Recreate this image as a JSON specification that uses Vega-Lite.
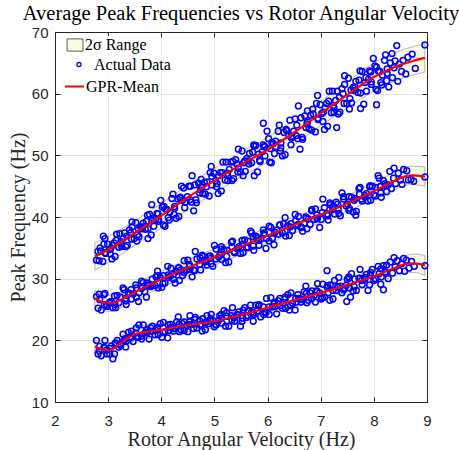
{
"$schema": "https://vega.github.io/schema/vega-lite/v6.json",
"width": 372, "height": 370,
"autosize": {"type": "none"},
"padding": {"left": 55, "top": 32, "right": 32, "bottom": 48},
"background": "white",
"title": {"text": "Average Peak Frequencies vs Rotor Angular Velocity", "font": "Liberation Serif", "fontSize": 20.5, "fontWeight": "normal", "color": "black", "offset": 1, "anchor": "middle"},
"config": {"view": {"stroke": "#262626", "strokeWidth": 1},
 "legend": {"labelFont": "Liberation Serif", "labelFontSize": 16, "labelColor": "black", "labelLimit": 300, "padding": 1, "fillColor": "white"}},
"datasets": {
"gpr": [
{"b":"A","x":2.75,"m":33.6,"lo":31.4,"hi":35.8},{"b":"A","x":3.0,"m":34.7,"lo":32.6,"hi":36.8},{"b":"A","x":3.5,"m":37.4,"lo":35.4,"hi":39.4},{"b":"A","x":4.0,"m":40.2,"lo":38.2,"hi":42.2},{"b":"A","x":4.5,"m":43.2,"lo":41.2,"hi":45.2},{"b":"A","x":5.0,"m":45.9,"lo":43.9,"hi":47.9},{"b":"A","x":5.5,"m":48.5,"lo":46.5,"hi":50.5},{"b":"A","x":6.0,"m":50.9,"lo":48.9,"hi":52.9},{"b":"A","x":6.5,"m":53.7,"lo":51.7,"hi":55.7},{"b":"A","x":7.0,"m":56.8,"lo":54.8,"hi":58.8},{"b":"A","x":7.5,"m":59.8,"lo":57.7,"hi":61.9},{"b":"A","x":8.0,"m":62.7,"lo":60.4,"hi":65.0},{"b":"A","x":8.25,"m":63.8,"lo":61.5,"hi":66.1},{"b":"A","x":8.5,"m":64.7,"lo":62.4,"hi":67.0},{"b":"A","x":8.75,"m":65.35,"lo":63.05,"hi":67.65},{"b":"A","x":8.96,"m":65.8,"lo":63.5,"hi":68.1},
{"b":"B","x":2.75,"m":26.8,"lo":25.5,"hi":28.1},{"b":"B","x":2.9,"m":26.2,"lo":24.9,"hi":27.5},{"b":"B","x":3.0,"m":26.0,"lo":24.7,"hi":27.3},{"b":"B","x":3.15,"m":26.2,"lo":24.9,"hi":27.5},{"b":"B","x":3.3,"m":26.9,"lo":25.6,"hi":28.2},{"b":"B","x":3.5,"m":27.8,"lo":26.5,"hi":29.1},{"b":"B","x":4.0,"m":29.9,"lo":28.6,"hi":31.2},{"b":"B","x":4.5,"m":31.8,"lo":30.5,"hi":33.1},{"b":"B","x":5.0,"m":33.5,"lo":32.2,"hi":34.8},{"b":"B","x":5.5,"m":35.2,"lo":33.9,"hi":36.5},{"b":"B","x":6.0,"m":37.0,"lo":35.7,"hi":38.3},{"b":"B","x":6.5,"m":38.7,"lo":37.4,"hi":40.0},{"b":"B","x":7.0,"m":40.4,"lo":39.1,"hi":41.7},{"b":"B","x":7.5,"m":42.2,"lo":40.9,"hi":43.5},{"b":"B","x":8.0,"m":44.2,"lo":42.9,"hi":45.5},{"b":"B","x":8.3,"m":45.5,"lo":44.1,"hi":46.9},{"b":"B","x":8.5,"m":46.3,"lo":44.85,"hi":47.75},{"b":"B","x":8.7,"m":46.75,"lo":45.25,"hi":48.25},{"b":"B","x":8.96,"m":46.55,"lo":45.0,"hi":48.1},
{"b":"C","x":2.75,"m":19.0,"lo":17.9,"hi":20.1},{"b":"C","x":2.85,"m":18.6,"lo":17.5,"hi":19.7},{"b":"C","x":2.95,"m":18.4,"lo":17.3,"hi":19.5},{"b":"C","x":3.05,"m":18.5,"lo":17.4,"hi":19.6},{"b":"C","x":3.2,"m":19.3,"lo":18.2,"hi":20.4},{"b":"C","x":3.35,"m":20.3,"lo":19.2,"hi":21.4},{"b":"C","x":3.5,"m":21.0,"lo":19.9,"hi":22.1},{"b":"C","x":3.75,"m":21.4,"lo":20.3,"hi":22.5},{"b":"C","x":4.0,"m":21.7,"lo":20.6,"hi":22.8},{"b":"C","x":4.5,"m":22.5,"lo":21.4,"hi":23.6},{"b":"C","x":5.0,"m":23.1,"lo":22.0,"hi":24.2},{"b":"C","x":5.5,"m":24.1,"lo":23.0,"hi":25.2},{"b":"C","x":6.0,"m":25.3,"lo":24.2,"hi":26.4},{"b":"C","x":6.5,"m":26.5,"lo":25.4,"hi":27.6},{"b":"C","x":7.0,"m":27.7,"lo":26.6,"hi":28.8},{"b":"C","x":7.5,"m":29.0,"lo":27.9,"hi":30.1},{"b":"C","x":8.0,"m":30.4,"lo":29.3,"hi":31.5},{"b":"C","x":8.3,"m":31.4,"lo":30.1,"hi":32.7},{"b":"C","x":8.6,"m":32.35,"lo":30.95,"hi":33.75},{"b":"C","x":8.75,"m":32.5,"lo":31.0,"hi":34.0},{"b":"C","x":8.96,"m":32.15,"lo":30.55,"hi":33.75}
],
"pts": [
{"x":2.81,"y":34.4},{"x":2.78,"y":33.0},{"x":2.83,"y":32.9},{"x":2.86,"y":34.5},{"x":2.92,"y":35.6},{"x":2.90,"y":32.8},{"x":2.95,"y":34.2},{"x":2.94,"y":36.5},{"x":2.99,"y":35.6},{"x":3.02,"y":34.7},{"x":3.07,"y":33.2},{"x":3.04,"y":34.0},{"x":3.08,"y":35.4},{"x":3.11,"y":35.8},{"x":3.16,"y":37.2},{"x":3.13,"y":33.6},{"x":3.20,"y":35.1},{"x":3.22,"y":37.3},{"x":3.24,"y":36.0},{"x":3.25,"y":35.6},{"x":3.31,"y":37.4},{"x":3.28,"y":36.5},{"x":3.33,"y":35.2},{"x":3.36,"y":35.4},{"x":3.42,"y":37.4},{"x":3.40,"y":37.9},{"x":3.45,"y":39.2},{"x":3.44,"y":36.4},{"x":3.49,"y":36.5},{"x":3.52,"y":39.1},{"x":3.57,"y":38.0},{"x":3.54,"y":36.1},{"x":3.58,"y":36.8},{"x":3.61,"y":38.4},{"x":3.66,"y":39.0},{"x":3.63,"y":38.1},{"x":3.70,"y":38.0},{"x":3.72,"y":39.3},{"x":3.74,"y":40.3},{"x":3.75,"y":36.5},{"x":3.81,"y":37.1},{"x":3.78,"y":40.4},{"x":3.83,"y":39.4},{"x":3.86,"y":38.5},{"x":3.92,"y":40.6},{"x":3.90,"y":39.7},{"x":3.95,"y":39.3},{"x":3.94,"y":40.5},
{"x":3.99,"y":42.7},{"x":4.02,"y":41.6},{"x":4.07,"y":38.5},{"x":4.04,"y":38.7},{"x":4.08,"y":41.3},{"x":4.11,"y":41.2},{"x":4.16,"y":40.8},{"x":4.13,"y":39.9},{"x":4.20,"y":43.0},{"x":4.22,"y":43.7},{"x":4.24,"y":40.4},{"x":4.25,"y":41.4},{"x":4.31,"y":42.9},{"x":4.28,"y":39.8},{"x":4.33,"y":40.1},{"x":4.36,"y":43.2},{"x":4.42,"y":44.7},{"x":4.40,"y":42.7},{"x":4.45,"y":42.4},{"x":4.44,"y":41.5},{"x":4.49,"y":43.3},{"x":4.52,"y":45.0},{"x":4.57,"y":42.4},{"x":4.54,"y":42.8},{"x":4.58,"y":46.7},{"x":4.61,"y":41.0},{"x":4.66,"y":42.3},{"x":4.63,"y":45.2},{"x":4.70,"y":45.5},{"x":4.72,"y":43.9},{"x":4.74,"y":44.4},{"x":4.75,"y":46.1},{"x":4.81,"y":45.6},{"x":4.78,"y":43.8},{"x":4.83,"y":43.7},{"x":4.86,"y":45.7},{"x":4.92,"y":47.2},{"x":4.90,"y":43.4},{"x":4.95,"y":45.2},{"x":4.94,"y":48.2},{"x":4.99,"y":47.1},{"x":5.02,"y":45.9},{"x":5.07,"y":43.8},{"x":5.04,"y":44.9},{"x":5.08,"y":46.7},{"x":5.11,"y":47.2},{"x":5.16,"y":48.9},{"x":5.13,"y":44.2},{"x":5.20,"y":46.0},{"x":5.22,"y":48.9},{"x":5.24,"y":47.1},{"x":5.25,"y":46.7},{"x":5.31,"y":48.9},{"x":5.28,"y":47.7},{"x":5.33,"y":45.9},{"x":5.36,"y":46.2},{"x":5.42,"y":48.6},{"x":5.40,"y":49.3},{"x":5.45,"y":51.0},{"x":5.44,"y":47.3},{"x":5.49,"y":47.3},{"x":5.52,"y":50.7},{"x":5.57,"y":49.1},{"x":5.54,"y":46.7},{"x":5.58,"y":47.4},{"x":5.61,"y":49.5},{"x":5.66,"y":50.3},{"x":5.63,"y":49.1},{"x":5.70,"y":48.8},{"x":5.72,"y":50.5},{"x":5.74,"y":51.7},{"x":5.75,"y":46.7},{"x":5.81,"y":47.3},{"x":5.78,"y":51.6},{"x":5.83,"y":50.2},{"x":5.86,"y":49.0},{"x":5.92,"y":51.7},{"x":5.90,"y":50.6},{"x":5.95,"y":49.9},{"x":5.94,"y":51.4},
{"x":5.99,"y":53.9},{"x":6.02,"y":52.7},{"x":6.07,"y":48.8},{"x":6.04,"y":48.9},{"x":6.08,"y":52.1},{"x":6.11,"y":51.9},{"x":6.16,"y":51.4},{"x":6.13,"y":50.3},{"x":6.20,"y":53.9},{"x":6.22,"y":54.9},{"x":6.24,"y":50.7},{"x":6.25,"y":52.0},{"x":6.31,"y":53.7},{"x":6.28,"y":49.9},{"x":6.33,"y":50.1},{"x":6.36,"y":54.0},{"x":6.42,"y":55.7},{"x":6.40,"y":53.3},{"x":6.45,"y":52.8},{"x":6.44,"y":51.7},{"x":6.49,"y":53.9},{"x":6.52,"y":55.9},{"x":6.57,"y":52.7},{"x":6.54,"y":53.2},{"x":6.58,"y":58.0},{"x":6.61,"y":51.0},{"x":6.66,"y":52.6},{"x":6.63,"y":56.1},{"x":6.70,"y":56.4},{"x":6.72,"y":54.5},{"x":6.74,"y":55.1},{"x":6.75,"y":57.2},{"x":6.81,"y":56.5},{"x":6.78,"y":54.3},{"x":6.83,"y":54.1},{"x":6.86,"y":56.7},{"x":6.92,"y":58.4},{"x":6.90,"y":53.8},{"x":6.95,"y":56.0},{"x":6.94,"y":59.7},{"x":6.99,"y":58.2},{"x":7.02,"y":56.8},{"x":7.07,"y":54.2},{"x":7.04,"y":55.5},{"x":7.08,"y":57.7},{"x":7.11,"y":58.4},{"x":7.16,"y":60.4},{"x":7.13,"y":54.7},{"x":7.20,"y":56.9},{"x":7.22,"y":60.4},{"x":7.24,"y":58.1},{"x":7.25,"y":57.7},{"x":7.31,"y":60.4},{"x":7.28,"y":58.9},{"x":7.33,"y":56.7},{"x":7.36,"y":57.0},{"x":7.42,"y":60.0},{"x":7.40,"y":60.8},{"x":7.45,"y":62.9},{"x":7.44,"y":58.4},{"x":7.49,"y":58.4},{"x":7.52,"y":62.5},{"x":7.57,"y":60.6},{"x":7.54,"y":57.5},{"x":7.58,"y":58.5},{"x":7.61,"y":61.0},{"x":7.66,"y":62.0},{"x":7.63,"y":60.5},{"x":7.70,"y":60.2},{"x":7.72,"y":62.2},{"x":7.74,"y":63.7},{"x":7.75,"y":57.6},{"x":7.81,"y":58.3},{"x":7.78,"y":63.6},{"x":7.83,"y":61.8},{"x":7.86,"y":60.4},{"x":7.92,"y":63.7},{"x":7.90,"y":62.3},{"x":7.95,"y":61.5},{"x":7.94,"y":63.5},{"x":7.99,"y":65.7},{"x":8.02,"y":64.5},{"x":8.07,"y":60.5},{"x":8.04,"y":60.7},{"x":8.08,"y":63.7},{"x":8.11,"y":63.6},{"x":8.16,"y":63.0},{"x":8.13,"y":61.8},{"x":8.20,"y":65.4},{"x":8.22,"y":66.3},{"x":8.24,"y":62.1},{"x":8.25,"y":63.3},{"x":8.31,"y":65.0},{"x":8.28,"y":61.1},
{"x":8.34,"y":66.5},{"x":8.38,"y":64.2},{"x":8.43,"y":67.8},{"x":8.45,"y":62.0},{"x":8.52,"y":63.6},{"x":8.55,"y":65.4},{"x":8.60,"y":63.2},{"x":8.64,"y":65.9},{"x":8.72,"y":66.4},{"x":8.78,"y":64.1},{"x":8.96,"y":67.9},{"x":8.35,"y":62.6},{"x":8.40,"y":65.3},{"x":8.48,"y":64.8},{"x":5.92,"y":55.2},{"x":7.30,"y":54.5},{"x":8.05,"y":58.2},{"x":2.91,"y":36.9},{"x":3.82,"y":42.0},{"x":4.38,"y":45.0},
{"x":2.85,"y":35.0},{"x":2.95,"y":34.1},{"x":3.05,"y":34.9},{"x":3.15,"y":36.2},{"x":3.25,"y":35.2},{"x":3.35,"y":36.9},{"x":3.45,"y":38.4},{"x":3.55,"y":37.1},{"x":3.65,"y":38.4},{"x":3.75,"y":38.1},{"x":3.85,"y":39.8},{"x":3.95,"y":39.6},{"x":4.05,"y":41.7},{"x":4.15,"y":39.5},{"x":4.25,"y":41.7},{"x":4.35,"y":43.1},{"x":4.45,"y":42.4},{"x":4.55,"y":45.0},{"x":4.65,"y":42.8},{"x":4.75,"y":44.9},{"x":4.85,"y":44.9},{"x":4.95,"y":46.6},{"x":5.05,"y":45.4},{"x":5.15,"y":47.2},{"x":5.25,"y":45.9},{"x":5.35,"y":49.0},{"x":5.45,"y":47.9},{"x":5.55,"y":48.8},{"x":5.65,"y":48.6},{"x":5.75,"y":51.5},{"x":5.85,"y":49.2},{"x":5.95,"y":51.4},{"x":6.05,"y":51.1},{"x":6.15,"y":52.3},{"x":6.25,"y":51.2},{"x":6.35,"y":54.2},{"x":6.45,"y":53.1},{"x":6.55,"y":54.9},{"x":6.65,"y":52.9},{"x":6.75,"y":55.4},{"x":6.85,"y":57.5},{"x":6.95,"y":55.8},{"x":7.05,"y":57.0},{"x":7.15,"y":58.8},{"x":7.25,"y":57.0},{"x":7.35,"y":59.4},{"x":7.45,"y":61.5},{"x":7.55,"y":59.2},{"x":7.65,"y":61.0},{"x":7.75,"y":60.1},{"x":7.85,"y":62.6},{"x":7.95,"y":61.9},{"x":8.05,"y":64.3},{"x":8.15,"y":61.4},{"x":8.25,"y":64.0},
{"x":2.81,"y":25.2},{"x":2.78,"y":27.1},{"x":2.84,"y":26.6},{"x":2.87,"y":24.9},{"x":2.94,"y":27.6},{"x":2.92,"y":27.4},{"x":2.98,"y":25.5},{"x":2.97,"y":25.7},{"x":3.03,"y":26.0},{"x":3.06,"y":26.3},{"x":3.12,"y":27.2},{"x":3.09,"y":25.3},{"x":3.14,"y":25.3},{"x":3.17,"y":27.3},{"x":3.23,"y":27.0},{"x":3.20,"y":26.1},{"x":3.28,"y":28.5},{"x":3.30,"y":28.2},{"x":3.33,"y":26.4},{"x":3.34,"y":25.8},{"x":3.41,"y":27.6},{"x":3.38,"y":27.7},{"x":3.44,"y":26.7},{"x":3.47,"y":27.5},{"x":3.54,"y":28.5},{"x":3.52,"y":29.0},{"x":3.58,"y":27.7},{"x":3.57,"y":26.3},{"x":3.63,"y":29.6},{"x":3.66,"y":29.4},{"x":3.72,"y":27.0},{"x":3.69,"y":27.9},{"x":3.74,"y":28.9},{"x":3.77,"y":29.0},{"x":3.83,"y":29.9},{"x":3.80,"y":28.7},{"x":3.88,"y":28.9},{"x":3.90,"y":30.3},{"x":3.93,"y":31.2},{"x":3.94,"y":28.5},
{"x":4.01,"y":28.6},{"x":3.98,"y":30.2},{"x":4.04,"y":30.5},{"x":4.07,"y":29.3},{"x":4.14,"y":30.2},{"x":4.12,"y":32.0},{"x":4.18,"y":31.7},{"x":4.17,"y":30.4},{"x":4.23,"y":29.9},{"x":4.26,"y":29.3},{"x":4.32,"y":31.7},{"x":4.29,"y":31.2},{"x":4.34,"y":29.7},{"x":4.37,"y":31.4},{"x":4.43,"y":32.9},{"x":4.40,"y":30.5},{"x":4.48,"y":31.4},{"x":4.50,"y":33.0},{"x":4.53,"y":32.0},{"x":4.54,"y":31.5},{"x":4.61,"y":31.4},{"x":4.58,"y":30.3},{"x":4.64,"y":34.4},{"x":4.67,"y":33.2},{"x":4.74,"y":31.4},{"x":4.72,"y":32.3},{"x":4.78,"y":33.6},{"x":4.77,"y":33.8},{"x":4.83,"y":32.9},{"x":4.86,"y":32.2},{"x":4.92,"y":33.7},{"x":4.89,"y":33.6},{"x":4.94,"y":32.4},{"x":4.97,"y":32.0},{"x":5.03,"y":34.8},{"x":5.00,"y":35.4},{"x":5.08,"y":33.5},{"x":5.10,"y":33.8},{"x":5.13,"y":34.8},{"x":5.14,"y":33.1},{"x":5.21,"y":32.6},{"x":5.18,"y":34.7},{"x":5.24,"y":34.6},{"x":5.27,"y":32.7},{"x":5.34,"y":36.1},{"x":5.32,"y":35.9},{"x":5.38,"y":34.2},{"x":5.37,"y":34.4},{"x":5.43,"y":34.9},{"x":5.46,"y":35.2},{"x":5.52,"y":36.2},{"x":5.49,"y":34.1},{"x":5.54,"y":34.2},{"x":5.57,"y":36.3},{"x":5.63,"y":36.1},{"x":5.60,"y":35.0},{"x":5.68,"y":37.7},{"x":5.70,"y":37.4},{"x":5.73,"y":35.3},{"x":5.74,"y":34.6},{"x":5.81,"y":36.6},{"x":5.78,"y":36.9},{"x":5.84,"y":35.4},{"x":5.87,"y":36.4},{"x":5.94,"y":37.4},{"x":5.92,"y":37.9},{"x":5.98,"y":36.5},{"x":5.97,"y":34.9},
{"x":6.03,"y":38.5},{"x":6.06,"y":38.3},{"x":6.12,"y":35.5},{"x":6.09,"y":36.5},{"x":6.14,"y":37.5},{"x":6.17,"y":37.9},{"x":6.23,"y":38.7},{"x":6.20,"y":37.2},{"x":6.28,"y":37.4},{"x":6.30,"y":38.9},{"x":6.33,"y":39.9},{"x":6.34,"y":36.9},{"x":6.41,"y":37.0},{"x":6.38,"y":38.6},{"x":6.44,"y":38.9},{"x":6.47,"y":37.8},{"x":6.54,"y":38.6},{"x":6.52,"y":40.4},{"x":6.58,"y":40.1},{"x":6.57,"y":38.8},{"x":6.63,"y":38.3},{"x":6.66,"y":37.7},{"x":6.72,"y":40.0},{"x":6.69,"y":39.0},{"x":6.74,"y":38.1},{"x":6.77,"y":39.7},{"x":6.83,"y":41.2},{"x":6.80,"y":38.8},{"x":6.88,"y":39.6},{"x":6.90,"y":41.3},{"x":6.93,"y":40.3},{"x":6.94,"y":39.8},
{"x":7.01,"y":39.6},{"x":6.98,"y":38.3},{"x":7.04,"y":42.9},{"x":7.07,"y":41.5},{"x":7.14,"y":39.5},{"x":7.12,"y":40.5},{"x":7.18,"y":42.0},{"x":7.17,"y":42.3},{"x":7.23,"y":41.2},{"x":7.26,"y":40.5},{"x":7.32,"y":42.1},{"x":7.29,"y":42.4},{"x":7.34,"y":40.6},{"x":7.37,"y":40.2},{"x":7.43,"y":43.3},{"x":7.40,"y":43.9},{"x":7.48,"y":41.8},{"x":7.50,"y":42.1},{"x":7.53,"y":43.3},{"x":7.54,"y":41.4},{"x":7.61,"y":40.8},{"x":7.58,"y":43.2},{"x":7.64,"y":43.0},{"x":7.67,"y":40.9},{"x":7.74,"y":44.8},{"x":7.72,"y":44.6},{"x":7.78,"y":42.6},{"x":7.77,"y":42.9},{"x":7.83,"y":43.5},{"x":7.86,"y":43.8},{"x":7.92,"y":44.9},{"x":7.89,"y":42.6},{"x":7.94,"y":42.7},{"x":7.97,"y":45.0},{"x":8.03,"y":44.8},{"x":8.00,"y":43.6},{"x":8.08,"y":46.7},{"x":8.10,"y":46.3},{"x":8.13,"y":43.9},{"x":8.14,"y":43.2},{"x":8.21,"y":45.4},{"x":8.18,"y":45.9},{"x":8.24,"y":44.1},{"x":8.27,"y":45.2},
{"x":8.30,"y":47.4},{"x":8.33,"y":44.6},{"x":8.37,"y":46.3},{"x":8.41,"y":45.4},{"x":8.46,"y":47.1},{"x":8.50,"y":46.0},{"x":8.56,"y":47.7},{"x":8.62,"y":47.5},{"x":8.65,"y":46.0},{"x":8.70,"y":46.1},{"x":8.75,"y":45.8},{"x":8.96,"y":46.5},{"x":8.38,"y":47.9},{"x":8.53,"y":45.3},{"x":7.66,"y":40.3},{"x":8.12,"y":44.9},
{"x":2.83,"y":27.5},{"x":2.93,"y":25.8},{"x":3.03,"y":26.2},{"x":3.13,"y":25.8},{"x":3.23,"y":27.0},{"x":3.33,"y":26.8},{"x":3.43,"y":28.2},{"x":3.53,"y":27.0},{"x":3.63,"y":28.4},{"x":3.73,"y":29.3},{"x":3.83,"y":28.9},{"x":3.93,"y":30.5},{"x":4.03,"y":29.2},{"x":4.13,"y":30.6},{"x":4.23,"y":30.7},{"x":4.33,"y":31.8},{"x":4.43,"y":31.0},{"x":4.53,"y":32.3},{"x":4.63,"y":31.3},{"x":4.73,"y":33.4},{"x":4.83,"y":32.7},{"x":4.93,"y":33.3},{"x":5.03,"y":33.2},{"x":5.13,"y":35.2},{"x":5.23,"y":33.6},{"x":5.33,"y":35.1},{"x":5.43,"y":34.9},{"x":5.53,"y":35.6},{"x":5.63,"y":35.1},{"x":5.73,"y":36.8},{"x":5.83,"y":36.2},{"x":5.93,"y":37.2},{"x":6.03,"y":36.1},{"x":6.13,"y":37.6},{"x":6.23,"y":38.7},{"x":6.33,"y":37.7},{"x":6.43,"y":38.4},{"x":6.53,"y":39.4},{"x":6.63,"y":38.4},{"x":6.73,"y":39.8},{"x":6.83,"y":41.0},{"x":6.93,"y":39.7},{"x":7.03,"y":40.7},{"x":7.13,"y":40.2},{"x":7.23,"y":41.7},{"x":7.33,"y":41.3},{"x":7.43,"y":42.9},{"x":7.53,"y":41.1},{"x":7.63,"y":42.7},{"x":7.73,"y":43.7},{"x":7.83,"y":43.2},{"x":7.93,"y":45.1},{"x":8.03,"y":43.4},{"x":8.13,"y":45.0},{"x":8.23,"y":45.1},
{"x":2.81,"y":17.8},{"x":2.78,"y":20.0},{"x":2.84,"y":19.0},{"x":2.87,"y":17.5},{"x":2.94,"y":20.0},{"x":2.92,"y":18.8},{"x":2.98,"y":17.8},{"x":2.97,"y":18.4},{"x":3.03,"y":18.7},{"x":3.06,"y":19.1},{"x":3.12,"y":17.8},{"x":3.09,"y":17.0},{"x":3.14,"y":19.6},{"x":3.17,"y":20.0},{"x":3.23,"y":19.2},{"x":3.20,"y":18.9},{"x":3.28,"y":21.0},{"x":3.30,"y":20.0},{"x":3.33,"y":18.9},{"x":3.34,"y":19.9},{"x":3.41,"y":20.6},{"x":3.38,"y":21.3},{"x":3.44,"y":21.5},{"x":3.47,"y":19.8},{"x":3.54,"y":20.6},{"x":3.52,"y":21.2},{"x":3.58,"y":22.5},{"x":3.57,"y":20.5},{"x":3.63,"y":20.2},{"x":3.66,"y":22.5},{"x":3.72,"y":21.6},{"x":3.69,"y":21.2},{"x":3.74,"y":21.3},{"x":3.77,"y":20.2},{"x":3.83,"y":22.3},{"x":3.80,"y":22.0},{"x":3.88,"y":20.9},{"x":3.90,"y":21.6},{"x":3.93,"y":22.1},{"x":3.94,"y":20.9},
{"x":4.01,"y":20.5},{"x":3.98,"y":22.7},{"x":4.04,"y":22.9},{"x":4.07,"y":21.4},{"x":4.14,"y":21.6},{"x":4.12,"y":20.4},{"x":4.18,"y":22.1},{"x":4.17,"y":22.6},{"x":4.23,"y":21.5},{"x":4.26,"y":21.9},{"x":4.32,"y":23.8},{"x":4.29,"y":23.0},{"x":4.34,"y":21.4},{"x":4.37,"y":21.7},{"x":4.43,"y":23.0},{"x":4.40,"y":22.7},{"x":4.48,"y":22.4},{"x":4.50,"y":21.4},{"x":4.53,"y":23.0},{"x":4.54,"y":24.0},{"x":4.61,"y":21.9},{"x":4.58,"y":22.6},{"x":4.64,"y":23.7},{"x":4.67,"y":22.0},{"x":4.74,"y":22.6},{"x":4.72,"y":23.2},{"x":4.78,"y":23.5},{"x":4.77,"y":21.5},{"x":4.83,"y":21.7},{"x":4.86,"y":24.0},{"x":4.92,"y":23.1},{"x":4.89,"y":22.7},{"x":4.94,"y":24.2},{"x":4.97,"y":23.2},
{"x":5.03,"y":22.6},{"x":5.00,"y":22.2},{"x":5.08,"y":23.2},{"x":5.10,"y":24.0},{"x":5.13,"y":24.2},{"x":5.14,"y":22.8},{"x":5.21,"y":22.3},{"x":5.18,"y":24.8},{"x":5.24,"y":23.9},{"x":5.27,"y":22.3},{"x":5.34,"y":25.3},{"x":5.32,"y":24.0},{"x":5.38,"y":23.1},{"x":5.37,"y":23.7},{"x":5.43,"y":24.2},{"x":5.46,"y":24.6},{"x":5.52,"y":23.1},{"x":5.49,"y":22.3},{"x":5.54,"y":24.9},{"x":5.57,"y":25.3},{"x":5.63,"y":24.0},{"x":5.60,"y":23.7},{"x":5.68,"y":25.7},{"x":5.70,"y":24.6},{"x":5.73,"y":23.1},{"x":5.74,"y":24.2},{"x":5.81,"y":24.8},{"x":5.78,"y":25.7},{"x":5.84,"y":25.8},{"x":5.87,"y":23.8},{"x":5.94,"y":24.6},{"x":5.92,"y":25.4},{"x":5.98,"y":26.8},{"x":5.97,"y":24.5},
{"x":6.03,"y":24.2},{"x":6.06,"y":26.9},{"x":6.12,"y":25.9},{"x":6.09,"y":25.4},{"x":6.14,"y":25.5},{"x":6.17,"y":24.3},{"x":6.23,"y":26.8},{"x":6.20,"y":26.4},{"x":6.28,"y":25.2},{"x":6.30,"y":26.1},{"x":6.33,"y":26.7},{"x":6.34,"y":25.2},{"x":6.41,"y":24.9},{"x":6.38,"y":27.4},{"x":6.44,"y":27.7},{"x":6.47,"y":26.0},{"x":6.54,"y":26.2},{"x":6.52,"y":24.9},{"x":6.58,"y":26.8},{"x":6.57,"y":27.4},{"x":6.63,"y":26.2},{"x":6.66,"y":26.6},{"x":6.72,"y":28.8},{"x":6.69,"y":27.9},{"x":6.74,"y":26.1},{"x":6.77,"y":26.5},{"x":6.83,"y":28.0},{"x":6.80,"y":27.7},{"x":6.88,"y":27.3},{"x":6.90,"y":26.2},{"x":6.93,"y":28.0},{"x":6.94,"y":29.2},
{"x":7.01,"y":26.7},{"x":6.98,"y":27.7},{"x":7.04,"y":29.1},{"x":7.07,"y":27.0},{"x":7.14,"y":27.7},{"x":7.12,"y":28.6},{"x":7.18,"y":29.0},{"x":7.17,"y":26.5},{"x":7.23,"y":26.7},{"x":7.26,"y":29.7},{"x":7.32,"y":28.7},{"x":7.29,"y":28.1},{"x":7.34,"y":30.2},{"x":7.37,"y":28.8},{"x":7.43,"y":28.2},{"x":7.40,"y":27.7},{"x":7.48,"y":28.9},{"x":7.50,"y":29.9},{"x":7.53,"y":30.1},{"x":7.54,"y":28.5},{"x":7.61,"y":28.0},{"x":7.58,"y":30.8},{"x":7.64,"y":29.9},{"x":7.67,"y":28.1},{"x":7.74,"y":31.5},{"x":7.72,"y":30.0},{"x":7.78,"y":29.0},{"x":7.77,"y":29.7},{"x":7.83,"y":30.2},{"x":7.86,"y":30.7},{"x":7.92,"y":29.0},{"x":7.89,"y":28.1},{"x":7.94,"y":31.0},{"x":7.97,"y":31.5},{"x":8.03,"y":30.0},{"x":8.00,"y":29.7},{"x":8.08,"y":32.0},{"x":8.10,"y":30.8},{"x":8.13,"y":29.1},{"x":8.14,"y":30.3},{"x":8.21,"y":31.1},{"x":8.18,"y":32.1},{"x":8.24,"y":32.2},{"x":8.27,"y":30.0},{"x":8.18,"y":28.2},
{"x":8.31,"y":32.7},{"x":8.35,"y":30.9},{"x":8.40,"y":31.9},{"x":8.44,"y":32.9},{"x":8.48,"y":31.3},{"x":8.52,"y":32.4},{"x":8.56,"y":33.3},{"x":8.61,"y":33.0},{"x":8.66,"y":31.7},{"x":8.71,"y":32.8},{"x":8.76,"y":32.0},{"x":8.96,"y":32.1},{"x":8.38,"y":33.4},{"x":8.58,"y":31.2},{"x":7.49,"y":26.3},{"x":7.56,"y":27.0},{"x":7.12,"y":31.3},
{"x":2.83,"y":18.3},{"x":2.93,"y":18.8},{"x":3.03,"y":17.8},{"x":3.13,"y":19.5},{"x":3.23,"y":19.4},{"x":3.33,"y":20.3},{"x":3.43,"y":20.4},{"x":3.53,"y":22.0},{"x":3.63,"y":20.7},{"x":3.73,"y":21.7},{"x":3.83,"y":21.5},{"x":3.93,"y":21.9},{"x":4.03,"y":21.3},{"x":4.13,"y":22.5},{"x":4.23,"y":21.9},{"x":4.33,"y":22.6},{"x":4.43,"y":21.6},{"x":4.53,"y":22.6},{"x":4.63,"y":23.4},{"x":4.73,"y":22.5},{"x":4.83,"y":22.9},{"x":4.93,"y":23.5},{"x":5.03,"y":22.5},{"x":5.13,"y":23.6},{"x":5.23,"y":24.5},{"x":5.33,"y":23.3},{"x":5.43,"y":24.1},{"x":5.53,"y":23.6},{"x":5.63,"y":24.8},{"x":5.73,"y":24.4},{"x":5.83,"y":25.6},{"x":5.93,"y":24.2},{"x":6.03,"y":25.4},{"x":6.13,"y":26.1},{"x":6.23,"y":25.6},{"x":6.33,"y":27.0},{"x":6.43,"y":25.6},{"x":6.53,"y":26.8},{"x":6.63,"y":26.7},{"x":6.73,"y":27.6},{"x":6.83,"y":26.8},{"x":6.93,"y":27.9},{"x":7.03,"y":26.9},{"x":7.13,"y":28.9},{"x":7.23,"y":28.1},{"x":7.33,"y":28.6},{"x":7.43,"y":28.4},{"x":7.53,"y":30.3},{"x":7.63,"y":28.7},{"x":7.73,"y":30.1},{"x":7.83,"y":29.9},{"x":7.93,"y":30.5},{"x":8.03,"y":29.9},{"x":8.13,"y":31.6},{"x":8.23,"y":31.0}
]
},
"layer": [
{
"data": {"name": "gpr"},
"mark": {"type": "area", "interpolate": "monotone", "stroke": "#a3a394", "strokeWidth": 0.8, "fillOpacity": 1},
"encoding": {
"x": {"field": "x", "type": "quantitative", "scale": {"domain": [2, 9], "nice": false},
 "axis": {"title": "Rotor Angular Velocity (Hz)", "values": [2,3,4,5,6,7,8,9], "tickSize": -5, "labelPadding": 16, "grid": true, "gridColor": "#e3e3e3", "domainColor": "#262626", "tickColor": "#262626", "labelFont": "Liberation Sans", "labelFontSize": 15, "labelColor": "#262626", "titleFont": "Liberation Serif", "titleFontSize": 20, "titleFontWeight": "normal", "titleColor": "#262626", "titlePadding": 1, "labelFlush": false}},
"y": {"field": "lo", "type": "quantitative", "scale": {"domain": [10, 70], "nice": false},
 "axis": {"title": "Peak Frequency (Hz)", "values": [10,20,30,40,50,60,70], "tickSize": -5, "labelPadding": 12, "grid": true, "gridColor": "#e3e3e3", "domainColor": "#262626", "tickColor": "#262626", "labelFont": "Liberation Sans", "labelFontSize": 15, "labelColor": "#262626", "titleFont": "Liberation Serif", "titleFontSize": 20, "titleFontWeight": "normal", "titleColor": "#262626", "titlePadding": 3, "labelFlush": false}},
"y2": {"field": "hi"},
"detail": {"field": "b"},
"fill": {"datum": "2σ Range", "type": "nominal",
 "scale": {"domain": ["2σ Range"], "range": ["#fbfbe3"]},
 "legend": {"orient": "none", "legendX": 11, "legendY": 4, "title": null, "symbolType": "M-1.3,-1H1.3V1H-1.3Z", "symbolSize": 150, "symbolStrokeColor": "#333333", "symbolStrokeWidth": 0.8, "labelOffset": 2}}
}
},
{
"data": {"name": "pts"},
"mark": {"type": "point", "shape": "circle", "filled": false, "size": 34, "strokeWidth": 1.5, "opacity": 1},
"encoding": {
"x": {"field": "x", "type": "quantitative", "axis": null},
"y": {"field": "y", "type": "quantitative", "axis": null},
"stroke": {"datum": "Actual Data", "type": "nominal",
 "scale": {"domain": ["Actual Data"], "range": ["#0000ff"]},
 "legend": {"orient": "none", "legendX": 15, "legendY": 23.5, "title": null, "symbolType": "circle", "symbolSize": 16, "symbolStrokeWidth": 1.3, "symbolFillColor": "transparent", "labelOffset": 7}}
}
},
{
"data": {"name": "gpr"},
"mark": {"type": "line", "interpolate": "monotone", "strokeWidth": 2.2},
"encoding": {
"x": {"field": "x", "type": "quantitative", "axis": {"orient": "top", "values": [2,3,4,5,6,7,8,9], "labels": false, "title": null, "grid": false, "tickSize": -5, "domainColor": "#262626", "tickColor": "#262626"}},
"y": {"field": "m", "type": "quantitative", "axis": {"orient": "right", "values": [10,20,30,40,50,60,70], "labels": false, "title": null, "grid": false, "tickSize": -5, "domainColor": "#262626", "tickColor": "#262626"}},
"detail": {"field": "b"},
"color": {"datum": "GPR-Mean", "type": "nominal",
 "scale": {"domain": ["GPR-Mean"], "range": ["#ff0000"]},
 "legend": {"orient": "none", "legendX": 8, "legendY": 43, "title": null, "symbolType": "stroke", "symbolSize": 361, "symbolStrokeWidth": 2, "labelOffset": 1}}
}
}
],
"resolve": {"axis": {"x": "independent", "y": "independent"}}
}
